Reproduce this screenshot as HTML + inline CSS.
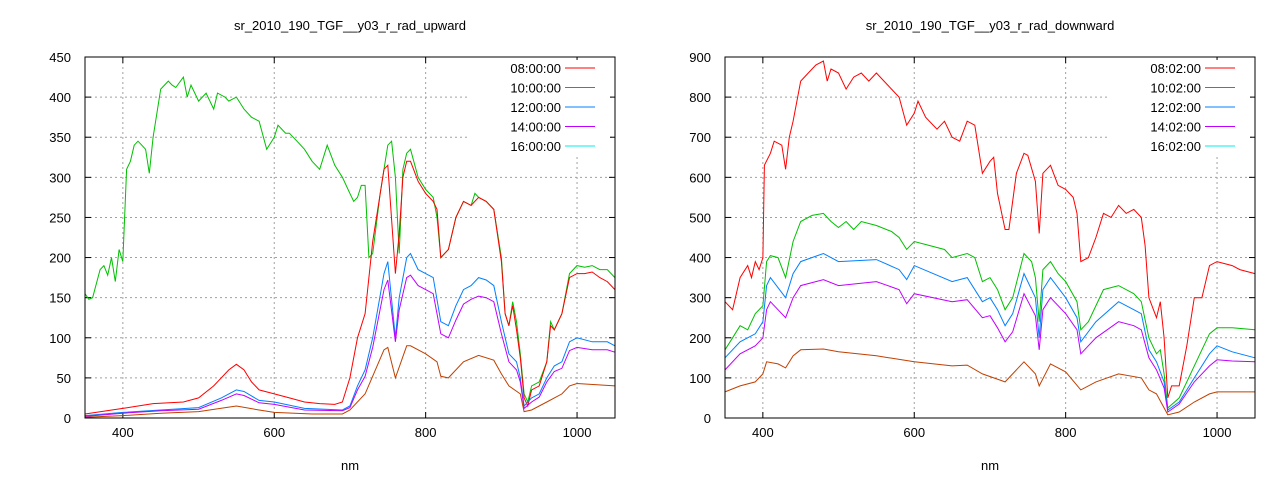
<!DOCTYPE html>
<html><head><meta charset="utf-8"><style>
body{margin:0;background:#fff;width:1280px;height:480px;overflow:hidden}
svg text{font-family:"Liberation Sans",sans-serif;font-size:13px;fill:#000}
</style></head><body>
<svg id="s" width="1280" height="480" xmlns="http://www.w3.org/2000/svg"></svg>
<script>
const S=document.getElementById('s');let h='';
function plot(ox,ymax,ystep,title,labels,series){
 const X=n=>ox+(n-350)*0.757, Y=v=>418-v*(361/ymax);
 const x0=ox,x1=ox+530;
 // grid
 for(let v=ystep;v<ymax;v+=ystep){h+=`<line x1="${x0}" x2="${x1}" y1="${Y(v)}" y2="${Y(v)}" stroke="#a0a0a0" stroke-dasharray="2,3"/>`;}
 for(const n of [400,600,800,1000]){h+=`<line y1="57" y2="418" x1="${X(n)}" x2="${X(n)}" stroke="#a0a0a0" stroke-dasharray="2,3"/>`;
  h+=`<line y1="418" y2="412" x1="${X(n)}" x2="${X(n)}" stroke="#000"/><line y1="57" y2="63" x1="${X(n)}" x2="${X(n)}" stroke="#000"/>`;
  h+=`<text x="${X(n)}" y="437" text-anchor="middle">${n}</text>`;}
 for(let v=0;v<=ymax;v+=ystep){h+=`<line x1="${x0}" x2="${x0+6}" y1="${Y(v)}" y2="${Y(v)}" stroke="#000"/><line x1="${x1}" x2="${x1-6}" y1="${Y(v)}" y2="${Y(v)}" stroke="#000"/>`;
  h+=`<text x="${x0-14}" y="${Y(v)+5}" text-anchor="end">${v}</text>`;}
 // series
 series.forEach((s,i)=>{const p=[];for(let k=0;k<s[1].length;k+=2)p.push(X(s[1][k]).toFixed(1)+','+Y(s[1][k+1]).toFixed(1));
  h+=`<polyline fill="none" stroke="${s[0]}" stroke-width="1" points="${p.join(' ')}"/>`;});
 // legend (white box behind)
 h+=`<rect x="${x0+385}" y="60" width="140" height="96" fill="#fff"/>`;
 const lc=['#ff0000','#00c000','#0080ff','#c000ff','#00eeee'];
 labels.forEach((l,i)=>{const y=73+i*19.5;h+=`<text x="${x0+476}" y="${y}" text-anchor="end">${l}</text><line x1="${x0+480}" x2="${x0+510}" y1="${y-5}" y2="${y-5}" stroke="${lc[i]}"/>`;});
 h+=`<rect x="${x0}" y="57" width="530" height="361" fill="none" stroke="#000"/>`;
 h+=`<text x="${x0+265}" y="30" text-anchor="middle">${title}</text><text x="${x0+265}" y="470" text-anchor="middle">nm</text>`;
}
const L=[
['#00c000',[350,155,355,148,360,150,370,185,375,190,380,178,385,200,390,170,395,210,400,195,405,310,410,320,415,340,420,345,425,340,430,335,435,305,440,350,445,380,450,410,460,420,465,415,470,412,480,425,485,400,490,415,500,395,510,405,520,385,525,405,535,400,540,395,550,400,560,385,570,375,580,370,590,335,600,350,605,365,615,355,620,355,630,345,640,335,650,320,660,310,670,340,680,315,690,300,700,280,705,270,710,275,715,290,720,290,725,200,730,205,740,280,750,340,755,345,760,300,765,205,770,310,775,330,780,335,790,300,800,285,810,275,815,250,820,200,830,210,840,250,850,270,860,265,865,280,870,275,880,270,890,260,900,200,905,130,910,115,915,145,920,120,925,80,930,30,935,20,940,40,950,45,960,70,965,120,970,110,980,130,990,180,1000,190,1010,188,1020,190,1030,185,1040,185,1050,175]],
['#ff0000',[350,5,400,12,420,15,440,18,480,20,500,25,520,40,540,60,550,67,560,60,570,45,580,35,600,30,620,25,640,20,660,18,680,17,690,20,700,50,710,100,720,130,730,220,745,310,750,315,760,180,765,230,770,300,775,320,780,320,790,295,800,280,810,270,815,260,820,200,830,210,840,250,850,270,860,265,870,275,880,270,890,260,900,195,905,130,910,115,915,140,920,110,925,75,930,25,935,15,940,35,950,40,960,70,965,115,970,110,980,130,990,175,1000,180,1010,180,1020,182,1030,175,1040,170,1050,160]],
['#0080ff',[350,3,400,7,450,10,500,13,530,25,550,35,560,33,580,22,600,20,640,12,690,10,700,15,710,40,720,60,730,100,745,180,750,195,760,100,765,150,775,200,780,205,790,185,800,180,810,175,820,120,830,115,840,140,850,160,860,165,870,175,880,172,890,165,900,120,910,80,920,70,925,50,930,15,940,25,950,30,960,50,970,65,980,70,990,95,1000,100,1020,95,1040,95,1050,90]],
['#c000ff',[350,2,400,6,450,9,500,11,530,22,550,30,560,28,580,19,600,17,640,10,690,9,700,13,710,35,720,52,730,88,745,160,750,172,760,95,765,135,775,175,780,178,790,165,800,160,810,155,820,105,830,100,840,122,850,142,860,148,870,152,880,150,890,145,900,105,910,70,920,60,925,45,930,12,940,20,950,26,960,45,970,58,980,62,990,84,1000,88,1020,85,1040,85,1050,82]],
['#c04000',[350,1,400,3,450,6,500,8,550,15,580,10,600,7,650,5,690,5,700,10,720,30,745,85,750,88,760,50,775,90,780,90,800,80,815,70,820,52,830,50,850,70,870,78,890,72,900,55,910,40,925,30,930,8,940,10,960,20,980,30,990,40,1000,43,1050,40]]];
plot(85,450,50,'sr_2010_190_TGF__y03_r_rad_upward',['08:00:00','10:00:00','12:00:00','14:00:00','16:00:00'],L);
const R=[
['#00c000',[350,170,360,200,370,230,380,220,390,260,400,280,405,390,410,405,420,400,430,350,440,440,450,490,465,505,480,510,490,490,500,475,510,490,520,470,530,490,550,480,570,465,580,450,590,420,600,440,620,430,640,420,650,400,670,410,680,400,690,340,700,350,710,320,720,270,730,300,745,410,755,390,760,350,765,240,770,370,780,390,790,360,800,340,815,290,820,220,830,240,850,320,870,330,890,310,900,290,910,200,920,160,925,170,930,110,935,25,950,50,960,90,970,130,980,170,990,210,1000,225,1020,225,1050,220]],
['#0080ff',[350,150,370,190,390,210,400,240,405,330,410,350,430,300,440,360,450,390,480,410,500,390,550,395,580,370,590,345,600,380,650,340,670,350,690,290,700,300,710,270,720,230,730,260,745,360,760,300,765,200,770,320,780,350,800,300,815,250,820,190,840,240,870,290,890,270,900,260,910,170,920,140,930,90,935,20,950,40,970,100,990,160,1000,180,1020,165,1050,150]],
['#c000ff',[350,120,370,160,390,180,400,200,405,270,410,290,430,250,440,300,450,330,480,345,500,330,550,340,580,320,590,285,600,310,650,290,670,295,690,250,700,255,710,225,720,190,730,215,745,310,760,255,765,170,770,270,780,300,800,260,815,220,820,160,840,200,870,240,890,230,900,220,910,150,920,120,930,75,935,15,950,35,970,90,990,130,1000,145,1020,142,1050,140]],
['#c04000',[350,65,370,80,390,90,400,110,405,140,420,135,430,125,440,155,450,170,480,172,500,165,550,155,600,140,650,130,670,132,690,110,720,90,745,140,760,110,765,80,780,135,800,115,820,70,840,90,870,110,900,100,910,70,920,60,935,8,950,15,970,40,990,60,1000,65,1050,65]],
['#ff0000',[350,290,360,270,370,350,380,380,385,350,390,390,395,370,400,400,402,630,410,660,415,690,425,680,430,620,435,700,440,740,450,840,460,860,470,880,480,890,485,840,490,870,500,860,510,820,520,850,530,860,540,840,550,860,560,840,570,820,580,800,590,730,600,760,605,790,615,750,630,720,640,740,650,700,660,690,670,740,680,730,690,610,700,640,705,650,710,560,720,470,725,470,735,610,745,660,750,655,760,590,765,460,770,610,780,630,790,580,800,570,810,550,815,510,820,390,830,400,840,450,850,510,860,500,870,530,880,510,890,520,900,500,905,430,910,300,920,250,925,290,930,200,935,50,940,80,950,80,960,180,970,300,980,300,990,380,1000,390,1010,385,1020,380,1030,370,1050,360]]];
plot(725,900,100,'sr_2010_190_TGF__y03_r_rad_downward',['08:02:00','10:02:00','12:02:00','14:02:00','16:02:00'],R);
S.innerHTML=h;
</script>
</body></html>
